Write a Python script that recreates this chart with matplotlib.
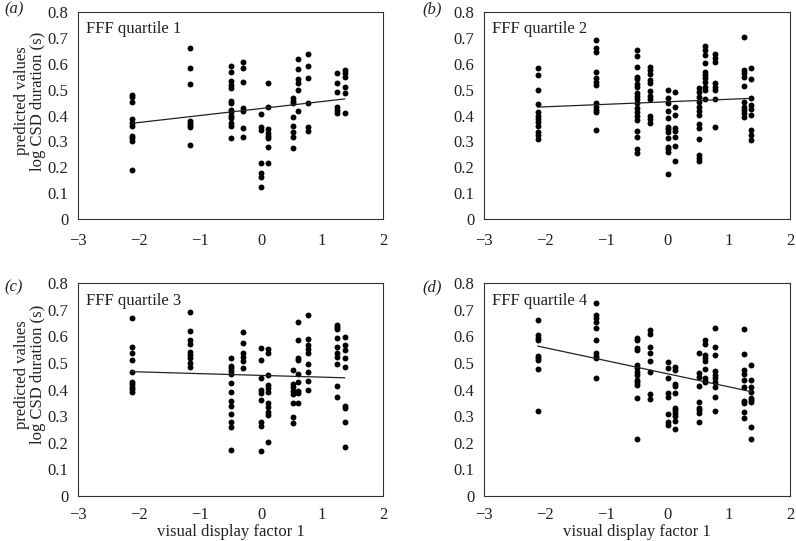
import numpy as np
import matplotlib
matplotlib.use("Agg")
import matplotlib.pyplot as plt

plt.rcParams["font.family"] = ["Liberation Serif", "DejaVu Serif"]

# ── Data ──────────────────────────────────────────────────────────────────────
# x positions of the visual display factor levels
x_levels = [-2.12, -1.17, -0.5, -0.29, 0.0, 0.12, 0.52, 0.61, 0.77, 1.25, 1.37]

# panel (a) FFF quartile 1
q1 = [
    [0.479, 0.470, 0.453, 0.385, 0.372, 0.36, 0.321, 0.312, 0.303, 0.188],
    [0.662, 0.584, 0.523, 0.378, 0.370, 0.362, 0.357, 0.286],
    [0.591, 0.567, 0.535, 0.518, 0.505, 0.457, 0.447, 0.421, 0.412, 0.398,
     0.392, 0.370, 0.360, 0.312],
    [0.607, 0.582, 0.528, 0.428, 0.417, 0.350, 0.316],
    [0.406, 0.354, 0.344, 0.215, 0.177, 0.164, 0.125],
    [0.524, 0.434, 0.347, 0.334, 0.321, 0.312, 0.279, 0.218],
    [0.466, 0.456, 0.450, 0.393, 0.359, 0.337, 0.318, 0.273],
    [0.617, 0.580, 0.540, 0.527, 0.499, 0.417],
    [0.636, 0.593, 0.544, 0.447, 0.354, 0.341],
    [0.563, 0.524, 0.492, 0.434, 0.421, 0.408],
    [0.576, 0.563, 0.550, 0.511, 0.486, 0.408],
]

# panel (b) FFF quartile 2
q2 = [
    [0.582, 0.557, 0.499, 0.444, 0.412, 0.399, 0.386, 0.374, 0.361, 0.337,
     0.325, 0.309],
    [0.692, 0.662, 0.647, 0.569, 0.546, 0.531, 0.518, 0.447, 0.434, 0.421,
     0.412, 0.344],
    [0.653, 0.631, 0.586, 0.548, 0.540, 0.521, 0.511, 0.486, 0.477, 0.464,
     0.447, 0.428, 0.415, 0.399, 0.383, 0.340, 0.318, 0.271, 0.254],
    [0.589, 0.576, 0.559, 0.537, 0.524, 0.495, 0.477, 0.464, 0.399, 0.386,
     0.370],
    [0.499, 0.466, 0.447, 0.417, 0.389, 0.357, 0.348, 0.335, 0.312, 0.279,
     0.271, 0.260, 0.173],
    [0.492, 0.434, 0.402, 0.350, 0.340, 0.318, 0.283, 0.224],
    [0.505, 0.492, 0.473, 0.451, 0.434, 0.417, 0.402, 0.366, 0.353, 0.309,
     0.247, 0.237, 0.224],
    [0.670, 0.653, 0.634, 0.602, 0.569, 0.557, 0.544, 0.531, 0.511, 0.499,
     0.464],
    [0.636, 0.624, 0.608, 0.524, 0.511, 0.499, 0.464, 0.354],
    [0.702, 0.576, 0.563, 0.550, 0.515, 0.451, 0.434, 0.421, 0.408, 0.395],
    [0.582, 0.541, 0.466, 0.441, 0.425, 0.402, 0.344, 0.325, 0.305],
]

# panel (c) FFF quartile 3
q3 = [
    [0.667, 0.558, 0.536, 0.511, 0.467, 0.429, 0.421, 0.411, 0.401, 0.392],
    [0.692, 0.621, 0.586, 0.571, 0.542, 0.530, 0.517, 0.498, 0.483],
    [0.517, 0.488, 0.480, 0.471, 0.458, 0.423, 0.392, 0.357, 0.338, 0.308,
     0.279, 0.260, 0.173],
    [0.615, 0.573, 0.536, 0.523, 0.508, 0.479],
    [0.557, 0.511, 0.442, 0.398, 0.388, 0.361, 0.279, 0.263, 0.170],
    [0.551, 0.536, 0.454, 0.417, 0.404, 0.392, 0.348, 0.333, 0.317, 0.304,
     0.204],
    [0.473, 0.421, 0.408, 0.396, 0.383, 0.351, 0.298, 0.273],
    [0.652, 0.586, 0.517, 0.511, 0.458, 0.429, 0.396, 0.386, 0.348],
    [0.680, 0.588, 0.567, 0.551, 0.538, 0.496, 0.467, 0.433, 0.398],
    [0.642, 0.634, 0.626, 0.592, 0.561, 0.536, 0.523, 0.496, 0.413, 0.371],
    [0.596, 0.567, 0.548, 0.517, 0.486, 0.338, 0.329, 0.279, 0.185],
]

# panel (d) FFF quartile 4
q4 = [
    [0.661, 0.605, 0.595, 0.586, 0.527, 0.520, 0.511, 0.477, 0.320],
    [0.724, 0.680, 0.667, 0.655, 0.630, 0.586, 0.536, 0.527, 0.520, 0.444],
    [0.595, 0.586, 0.555, 0.548, 0.492, 0.482, 0.467, 0.454, 0.436, 0.427,
     0.417, 0.369, 0.214],
    [0.623, 0.607, 0.561, 0.536, 0.507, 0.464, 0.382, 0.364],
    [0.505, 0.482, 0.444, 0.386, 0.373, 0.307, 0.277, 0.267],
    [0.486, 0.473, 0.419, 0.414, 0.386, 0.332, 0.323, 0.311, 0.302, 0.282,
     0.252],
    [0.536, 0.461, 0.448, 0.414, 0.354, 0.332, 0.323, 0.311, 0.279],
    [0.586, 0.570, 0.530, 0.517, 0.507, 0.477, 0.442, 0.432, 0.427],
    [0.630, 0.558, 0.530, 0.469, 0.454, 0.442, 0.427, 0.410, 0.373, 0.319],
    [0.626, 0.532, 0.473, 0.457, 0.436, 0.411, 0.357, 0.348, 0.317, 0.294],
    [0.492, 0.436, 0.411, 0.389, 0.369, 0.361, 0.354, 0.260, 0.214],
]

quartiles = [q1, q2, q3, q4]
titles = ["FFF quartile 1", "FFF quartile 2", "FFF quartile 3", "FFF quartile 4"]
panel_tags = ["(a)", "(b)", "(c)", "(d)"]

# fitted regression lines (intercept, slope)
fit_intercept = [0.427, 0.453, 0.453, 0.459]
fit_slope = [0.027, 0.0097, -0.0066, -0.049]

y_ticks = [0, 0.1, 0.2, 0.3, 0.4, 0.5, 0.6, 0.7, 0.8]
y_ticklabels = ["0", "0.1", "0.2", "0.3", "0.4", "0.5", "0.6", "0.7", "0.8"]
x_ticks = [-3, -2, -1, 0, 1, 2]

# ── Figure ────────────────────────────────────────────────────────────────────
W, H = 796, 541
fig = plt.figure(figsize=(W / 100, H / 100), dpi=100)

# axes boxes in pixels: left, top, right, bottom
boxes = [(78, 12, 383, 219), (484, 12, 790, 219),
         (78, 283, 383, 496), (484, 283, 790, 496)]
# panel tag centres in pixels
tag_pos = [(4, 9), (422, 9), (4, 287), (422, 287)]

for i, (l, t, r, b) in enumerate(boxes):
    ax = fig.add_axes([l / W, 1 - b / H, (r - l) / W, (b - t) / H])
    data = quartiles[i]
    for xv, ys in zip(x_levels, data):
        ax.scatter([xv] * len(ys), ys, s=18, color="black", linewidths=0,
                   zorder=3)
    xl = np.array([x_levels[0], x_levels[-1]])
    ax.plot(xl, fit_intercept[i] + fit_slope[i] * xl, color="#222222",
            lw=0.9, zorder=4)

    ax.set_xlim(-3, 2)
    ax.set_ylim(0, 0.8)
    ax.set_xticks(x_ticks)
    ax.set_yticks(y_ticks)
    ax.set_yticklabels(y_ticklabels)
    ax.tick_params(length=0, labelsize=12, colors="#222222")
    ax.tick_params(axis="y", pad=7)
    ax.tick_params(axis="x", pad=10 if i < 2 else 8)
    for sp in ax.spines.values():
        sp.set_linewidth(0.8)
        sp.set_color("#333333")

    ax.text(0.025, 0.955, titles[i], transform=ax.transAxes, fontsize=12,
            va="top", ha="left", color="#222222")

    if i in (0, 2):
        ax.set_ylabel("predicted values\nlog CSD duration (s)", fontsize=12,
                      linespacing=1.0, color="#222222")
        ax.yaxis.set_label_coords(-0.105, 0.57)
    if i in (2, 3):
        ax.set_xlabel("visual display factor 1", fontsize=12, labelpad=1,
                      color="#222222")

    tx, ty = tag_pos[i]
    fig.text(tx / W, 1 - ty / H, panel_tags[i], fontsize=12,
             style="italic", va="center", ha="left", color="#222222")

fig.savefig("out.png", dpi=100)
